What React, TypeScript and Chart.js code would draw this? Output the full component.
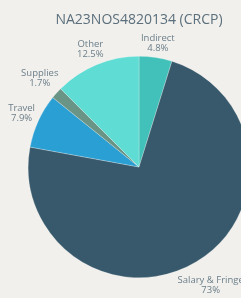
import React, { useEffect, useRef } from "react";
import { Chart, registerables } from "chart.js";

Chart.register(...registerables);

const TITLE = "NA23NOS4820134 (CRCP)";
const categories = ["Indirect", "Salary & Fringe", "Travel", "Supplies", "Other"];
const percentages = [4.8, 73, 7.9, 1.7, 12.5];
const colors = ["#41c1b9", "#37596b", "#2a9fd3", "#6a9486", "#5fdcd3"];

const BG = "#f1f0ec";
const LABEL_COLOR = "#6b7e89";
const TITLE_COLOR = "#5b6f7c";
const FONT = "'Open Sans', sans-serif";

const outsideLabels = {
  id: "outsideLabels",
  afterDatasetsDraw(chart: any) {
    const ctx = chart.ctx;
    const meta = chart.getDatasetMeta(0);
    const fontSize = 9.5;
    const lineH = 10;
    ctx.save();
    ctx.font = `${fontSize}px ${FONT}`;
    ctx.fillStyle = LABEL_COLOR;
    ctx.textAlign = "center";
    ctx.textBaseline = "middle";
    meta.data.forEach((arc: any, i: number) => {
      const p = arc.getProps(["x", "y", "startAngle", "endAngle", "outerRadius"], true);
      const mid = (p.startAngle + p.endAngle) / 2;
      const lines = [categories[i], `${percentages[i]}%`];
      const maxW = Math.max(...lines.map((l) => ctx.measureText(l).width));
      const hw = maxW / 2;
      const hh = (lines.length * lineH) / 2;
      const c = Math.cos(mid);
      const s = Math.sin(mid);
      const proj = Math.abs(c) * hw + Math.abs(s) * hh;
      const dist = p.outerRadius + 2 + proj;
      const cx = p.x + c * dist;
      const cy = p.y + s * dist;
      lines.forEach((l, k) => {
        ctx.fillText(l, cx, cy - hh + lineH * (k + 0.5));
      });
    });
    ctx.restore();
  },
};

export default function App() {
  const ref = useRef<HTMLCanvasElement | null>(null);
  useEffect(() => {
    document.body.style.margin = "0";
    document.body.style.background = BG;
    const chart = new Chart(ref.current as HTMLCanvasElement, {
      type: "pie",
      data: {
        labels: categories,
        datasets: [
          {
            data: percentages,
            backgroundColor: colors,
            borderColor: "rgba(255,255,255,0.5)",
            borderWidth: 0.5,
            hoverOffset: 0,
          },
        ],
      },
      options: {
        responsive: false,
        animation: false,
        devicePixelRatio: 1,
        layout: { padding: { left: 28, right: 28, top: 0, bottom: 20 } },
        plugins: {
          legend: { display: false },
          tooltip: { enabled: false },
          title: {
            display: true,
            text: TITLE,
            color: TITLE_COLOR,
            font: { family: FONT, size: 14, weight: "normal", lineHeight: 1.2 },
            padding: { top: 11.6, bottom: 27.6 },
          },
        },
      },
      plugins: [outsideLabels],
    });
    return () => chart.destroy();
  }, []);
  return (
    <div
      style={{
        position: "fixed",
        left: 0,
        top: 0,
        width: 241,
        height: 298,
        overflow: "hidden",
        background: BG,
      }}
    >
      <canvas ref={ref} width={278} height={298} style={{ display: "block" }} />
    </div>
  );
}
